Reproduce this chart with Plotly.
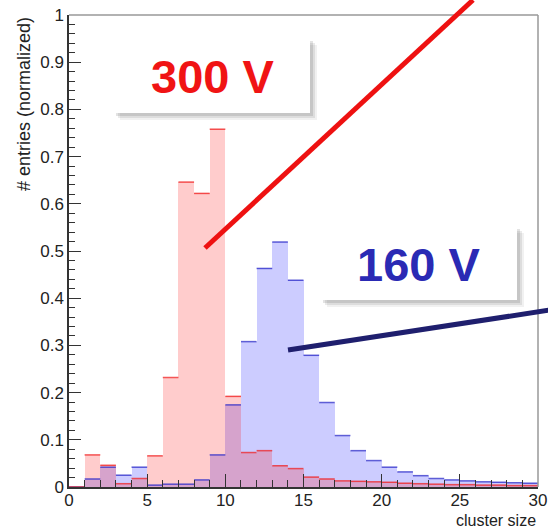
import plotly.graph_objects as go

# ---- data ----
bin_edges = list(range(0, 31))
v300 = [0.0, 0.068, 0.046, 0.007, 0.018, 0.066, 0.232, 0.646, 0.622, 0.758,
        0.192, 0.073, 0.077, 0.045, 0.039, 0.021, 0.017, 0.013, 0.012, 0.011,
        0.010, 0.008, 0.007, 0.006, 0.005, 0.005, 0.004, 0.004, 0.003, 0.003]
v160 = [0.0, 0.017, 0.042, 0.025, 0.042, 0.004, 0.006, 0.006, 0.015, 0.068,
        0.174, 0.308, 0.463, 0.519, 0.438, 0.279, 0.179, 0.109, 0.077, 0.056,
        0.042, 0.032, 0.024, 0.018, 0.015, 0.013, 0.011, 0.010, 0.009, 0.008]
x_ticks = [0, 5, 10, 15, 20, 25, 30]
y_ticks = [0, 0.1, 0.2, 0.3, 0.4, 0.5, 0.6, 0.7, 0.8, 0.9, 1]
y_ticklabels = ["0", "0.1", "0.2", "0.3", "0.4", "0.5", "0.6", "0.7", "0.8", "0.9", "1"]
label_300 = "300 V"
label_160 = "160 V"

W, H = 548, 529
L, R, T, B = 69, 538, 15, 487


def px(x):
    return (x - L) / (R - L)


def py(y):
    return (B - y) / (B - T)


centers = [(bin_edges[i] + bin_edges[i + 1]) / 2 for i in range(len(bin_edges) - 1)]


def steps(vals):
    xs, ys = [], []
    for i, v in enumerate(vals):
        xs += [bin_edges[i], bin_edges[i + 1], None]
        ys += [v, v, None]
    return xs, ys


fig = go.Figure()
fig.add_trace(go.Bar(x=centers, y=v160, width=1, marker=dict(color="rgba(0,0,255,0.2)", line=dict(width=0)),
                     showlegend=False))
fig.add_trace(go.Bar(x=centers, y=v300, width=1, marker=dict(color="rgba(255,0,0,0.2)", line=dict(width=0)),
                     showlegend=False))
sx, sy = steps(v160)
fig.add_trace(go.Scatter(x=sx, y=sy, mode="lines", line=dict(color="rgba(40,40,200,0.75)", width=1.5),
                         showlegend=False, cliponaxis=False))
sx, sy = steps(v300)
fig.add_trace(go.Scatter(x=sx, y=sy, mode="lines", line=dict(color="rgba(240,30,30,0.75)", width=1.5),
                         showlegend=False, cliponaxis=False))

shapes = []
# frame top/right (gray)
shapes.append(dict(type="line", xref="paper", yref="paper", x0=0, x1=1, y0=1, y1=1,
                   line=dict(color="#999999", width=1.5), layer="above"))
shapes.append(dict(type="line", xref="paper", yref="paper", x0=1, x1=1, y0=0, y1=1,
                   line=dict(color="#999999", width=1.5), layer="above"))


def box(x0, y0, x1, y1):
    # soft shadow
    for k, op in [(7, 0.08), (5, 0.12), (3, 0.16)]:
        shapes.append(dict(type="rect", xref="paper", yref="paper",
                           x0=px(x0 + k), x1=px(x1 + k), y0=py(y1 + k), y1=py(y0 + k),
                           fillcolor="rgba(80,80,80,%g)" % op, line=dict(width=0), layer="above"))
    shapes.append(dict(type="rect", xref="paper", yref="paper",
                       x0=px(x0), x1=px(x1), y0=py(y1), y1=py(y0),
                       fillcolor="white", line=dict(width=0), layer="above"))


box(113, 38, 310, 113)
box(320, 226, 517, 300)

# pointer lines
shapes.append(dict(type="line", xref="paper", yref="paper", x0=px(205), y0=py(248), x1=px(473), y1=py(0),
                   line=dict(color="#ee1111", width=5), layer="above"))
shapes.append(dict(type="line", xref="paper", yref="paper", x0=px(288), y0=py(350), x1=px(550), y1=py(310),
                   line=dict(color="#1f1f6e", width=5), layer="above"))

annotations = [
    dict(xref="paper", yref="paper", x=px(212), y=py(76), text="<b>%s</b>" % label_300, showarrow=False,
         font=dict(family="Liberation Sans, Arial", size=47, color="#f01414"), xanchor="center", yanchor="middle"),
    dict(xref="paper", yref="paper", x=px(418), y=py(264), text="<b>%s</b>" % label_160, showarrow=False,
         font=dict(family="Liberation Sans, Arial", size=47, color="#2a2ab4"), xanchor="center", yanchor="middle"),
    dict(xref="paper", yref="paper", x=1, y=py(520), text="cluster size", showarrow=False,
         font=dict(family="Liberation Sans, Arial", size=16, color="#222222"), xanchor="right", yanchor="middle"),
    dict(xref="paper", yref="paper", x=px(24), y=1, text="# entries (normalized)", showarrow=False, textangle=-90,
         font=dict(family="Liberation Sans, Arial", size=18, color="#222222"), xanchor="center", yanchor="top"),
]

fig.update_layout(
    width=W, height=H,
    margin=dict(l=L, r=W - R, t=T, b=H - B, autoexpand=False),
    paper_bgcolor="white", plot_bgcolor="white",
    barmode="overlay", bargap=0,
    shapes=shapes, annotations=annotations,
    font=dict(family="Liberation Sans, Arial", size=17, color="#222222"),
)
fig.update_xaxes(range=[0, 30], tickvals=x_ticks, ticks="inside", ticklen=13, tickwidth=1.2, automargin=False,
                 ticklabelstandoff=-3,
                 tickcolor="#333333", showline=True, linecolor="#333333", linewidth=1.5,
                 showgrid=False, zeroline=False, tickfont=dict(size=17),
                 minor=dict(ticks="inside", dtick=1, ticklen=7, tickcolor="#333333", tickwidth=1, showgrid=False))
fig.update_yaxes(range=[0, 1], tickvals=y_ticks, ticktext=y_ticklabels, ticks="inside", ticklen=12, tickwidth=1.2,
                 automargin=False,
                 tickcolor="#333333", showline=True, linecolor="#333333", linewidth=1.5,
                 showgrid=False, zeroline=False, tickfont=dict(size=17),
                 minor=dict(ticks="inside", dtick=0.02, ticklen=6, tickcolor="#333333", tickwidth=1, showgrid=False))

fig.write_html("out.html")
